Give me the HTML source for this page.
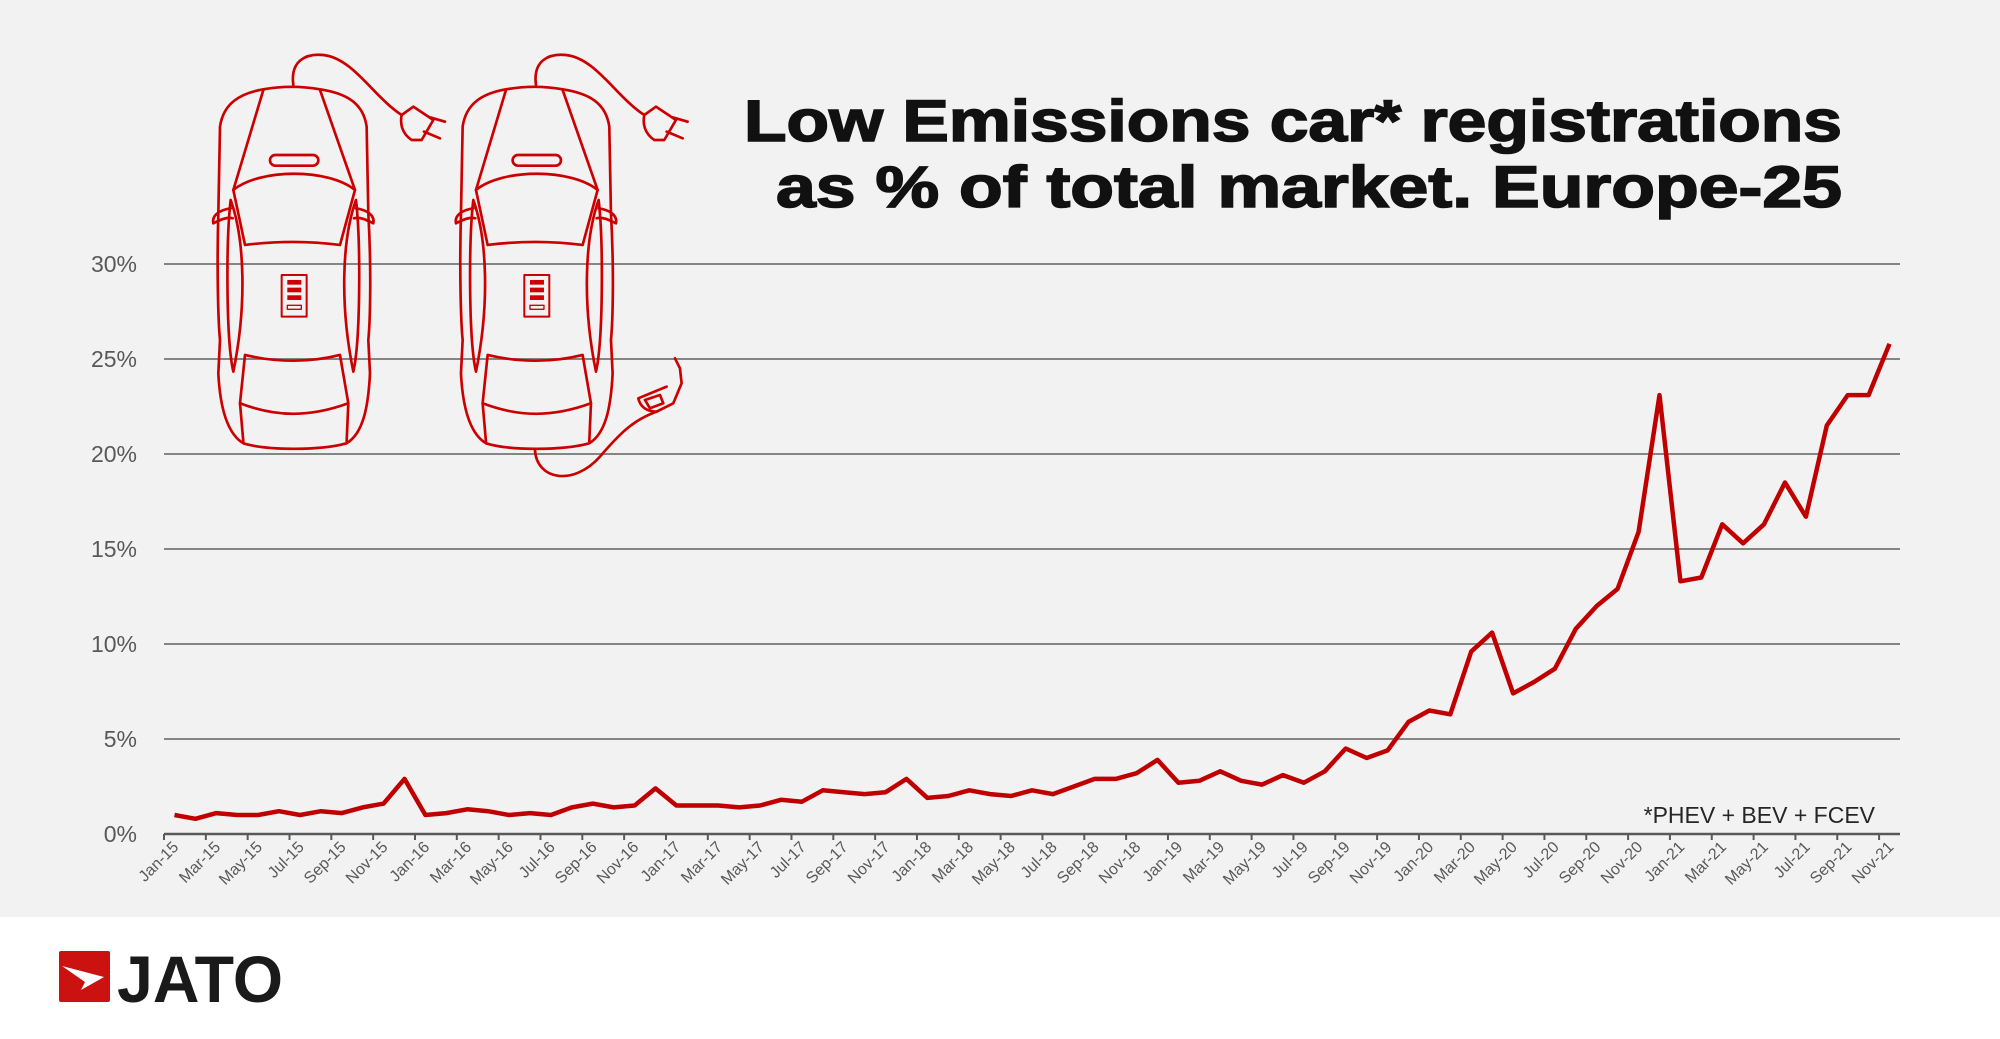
<!DOCTYPE html>
<html><head><meta charset="utf-8">
<style>
html,body{margin:0;padding:0;}
body{width:2000px;height:1039px;overflow:hidden;background:#fff;font-family:"Liberation Sans",sans-serif;}
#bg{position:absolute;left:0;top:0;width:2000px;height:917px;background:#f2f2f2;}
svg{position:absolute;left:0;top:0;}
</style></head><body>
<div id="bg"></div>
<svg id="s" width="2000" height="1039" viewBox="0 0 2000 1039">
<g font-family="Liberation Sans, Arial, sans-serif" font-weight="bold" font-size="58" fill="#111" stroke="#111" stroke-width="1.6" text-anchor="start">
<text x="744" y="141" textLength="1098" lengthAdjust="spacingAndGlyphs">Low Emissions car* registrations</text>
<text x="776" y="207" textLength="1066" lengthAdjust="spacingAndGlyphs">as % of total market. Europe-25</text>
</g>
<g id="grid"></g>
<g id="cars" transform="translate(200,40) scale(0.3333)" fill="none" stroke="#cc0000" stroke-width="8" stroke-linejoin="round" stroke-linecap="round">
<g id="car1">
<path d="M190,148 C120,160 70,190 60,260 L55,520 C50,700 55,850 60,900 L55,1000 C60,1100 80,1180 130,1210 C200,1232 360,1232 440,1210 C490,1180 505,1100 510,1000 L505,900 C510,850 515,700 505,520 L500,260 C490,190 440,160 360,148 C300,138 250,138 190,148 Z"/>
<path d="M190,150 L100,450 M360,150 L465,450"/>
<path d="M100,450 C180,385 385,385 465,450 L420,615 C330,603 230,603 135,615 Z"/>
<path d="M92,480 C135,600 140,800 100,995 C78,900 78,600 92,480 Z"/>
<path d="M468,480 C425,600 420,800 460,995 C482,900 482,600 468,480 Z"/>
<path d="M135,945 C230,968 330,968 420,945 L445,1090 C330,1132 230,1132 120,1090 Z"/>
<path d="M120,1090 L130,1205 M445,1090 L440,1205"/>
<path d="M92,505 C60,510 35,525 40,550 C60,540 80,530 98,535"/>
<path d="M468,505 C500,510 525,525 520,550 C500,540 480,530 462,535"/>
<rect x="210" y="345" width="145" height="32" rx="16"/>
<rect x="245" y="705" width="75" height="125" stroke-width="6"/>
<g fill="#cc0000" stroke="none"><rect x="262" y="720" width="42" height="14"/><rect x="262" y="743" width="42" height="14"/><rect x="262" y="766" width="42" height="14"/></g>
<rect x="262" y="796" width="42" height="12" stroke-width="4"/>
<path d="M280,135 C270,60 320,40 370,45 C460,55 520,170 605,225"/>
<path d="M605,225 L640,200 L700,240 L665,300 L635,300 C605,280 600,250 605,225 Z"/>
<path d="M690,232 L735,245 M672,275 L720,295"/>
</g>
<use href="#car1" transform="translate(728,0)"/>
<path d="M1005,1230 C1010,1320 1120,1340 1200,1250 C1260,1180 1300,1140 1370,1115"/>
<path d="M1370,1115 L1420,1090 L1445,1030 L1440,985 L1425,955 M1370,1115 C1340,1115 1320,1100 1315,1075 L1400,1040"/>
<path d="M1335,1080 L1350,1105 L1390,1090 L1380,1065 Z"/>
</g>
<g id="data"></g>
<text x="1875" y="823" font-family="Liberation Sans, sans-serif" font-size="23" fill="#262626" text-anchor="end">*PHEV + BEV + FCEV</text>
<rect x="59" y="951" width="51" height="51" rx="2" fill="#cc1111"/>
<path d="M62,966 L104,977 L81,990 L85,982 Z" fill="#fff"/>
<text x="117" y="1002" font-family="Liberation Sans, sans-serif" font-weight="bold" font-size="66" fill="#1a1a1a" textLength="166" lengthAdjust="spacingAndGlyphs">JATO</text>
</svg>
<script>
var vals=[1.0,0.8,1.1,1.0,1.0,1.2,1.0,1.2,1.1,1.4,1.6,2.9,
1.0,1.1,1.3,1.2,1.0,1.1,1.0,1.4,1.6,1.4,1.5,2.4,
1.5,1.5,1.5,1.4,1.5,1.8,1.7,2.3,2.2,2.1,2.2,2.9,
1.9,2.0,2.3,2.1,2.0,2.3,2.1,2.5,2.9,2.9,3.2,3.9,
2.7,2.8,3.3,2.8,2.6,3.1,2.7,3.3,4.5,4.0,4.4,5.9,
6.5,6.3,9.6,10.6,7.4,8.0,8.7,10.8,12.0,12.9,15.9,23.1,
13.3,13.5,16.3,15.3,16.3,18.5,16.7,21.5,23.1,23.1,25.8];
var L=164,R=1900,Y0=834,S=19,n=83,w=(R-L)/n;
var g='',mon=['Jan','Mar','May','Jul','Sep','Nov'];
for(var p=5;p<=30;p+=5){var y=Y0-p*S;g+='<line x1="'+L+'" x2="'+R+'" y1="'+y+'" y2="'+y+'" stroke="#858585" stroke-width="2"/>';}
for(var p=0;p<=30;p+=5){var y=Y0-p*S;g+='<text x="137" y="'+(y+8)+'" font-family="Liberation Sans, sans-serif" font-size="23" fill="#595959" text-anchor="end">'+p+'%</text>';}
g+='<line x1="'+L+'" x2="'+R+'" y1="'+Y0+'" y2="'+Y0+'" stroke="#595959" stroke-width="2.5"/>';
for(var k=0;k<=n;k+=2){var x=L+w*k;g+='<line x1="'+x+'" x2="'+x+'" y1="'+Y0+'" y2="'+(Y0+6)+'" stroke="#595959" stroke-width="2"/>';}
for(var i=0;i<n;i+=2){var x=L+w*(i+0.5)+5,yr=15+Math.floor(i/12);var lab=mon[(i%12)/2]+'-'+yr;
g+='<text transform="translate('+x+',848) rotate(-45)" font-family="Liberation Sans, sans-serif" font-size="16" fill="#595959" text-anchor="end">'+lab+'</text>';}
document.getElementById('grid').innerHTML=g;
var d='';for(var i=0;i<n;i++){d+=(i?'L':'M')+(L+w*(i+0.5)).toFixed(1)+','+(Y0-vals[i]*S).toFixed(1);}
document.getElementById('data').innerHTML='<path d="'+d+'" fill="none" stroke="#c00000" stroke-width="4.5" stroke-linejoin="round"/>';
</script>
</body></html>
